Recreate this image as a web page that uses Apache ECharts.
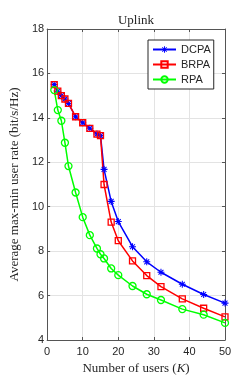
<!DOCTYPE html>
<html>
<head>
<meta charset="utf-8">
<script src="https://cdn.jsdelivr.net/npm/echarts@6/dist/echarts.min.js"></script>
<style>html,body{margin:0;padding:0;background:#fff;}#c{width:249px;height:382px;}</style>
</head>
<body>
<div id="c"></div>
<script>
var users = [2, 3, 4, 5, 6, 8, 10, 12, 14, 15, 16, 18, 20, 24, 28, 32, 38, 44, 50];
var dcpa = [15.5, 15.2, 15.0, 14.85, 14.65, 14.05, 13.78, 13.53, 13.27, 13.2, 11.68, 10.24, 9.33, 8.2, 7.52, 7.05, 6.51, 6.05, 5.66];
var brpa = [15.5, 15.2, 15.0, 14.85, 14.65, 14.05, 13.78, 13.53, 13.27, 13.2, 11.0, 9.31, 8.47, 7.56, 6.9, 6.4, 5.85, 5.43, 5.04];
var rpa = [15.25, 14.35, 13.87, 12.88, 11.83, 10.64, 9.53, 8.72, 8.12, 7.86, 7.67, 7.22, 6.92, 6.43, 6.06, 5.8, 5.39, 5.14, 4.77];
var seriesNames = ['DCPA', 'BRPA', 'RPA'];
var xTicks = [0, 10, 20, 30, 40, 50];
var yTicks = [4, 6, 8, 10, 12, 14, 16, 18];

function pairs(xs, ys) { return xs.map(function (x, i) { return [x, ys[i]]; }); }

var asterisk = 'path://M-1.5,-10L1.5,-10L1.5,10L-1.5,10Z' +
  'M-10,-1.5L10,-1.5L10,1.5L-10,1.5Z' +
  'M-5.94,-8.06L8.06,5.94L5.94,8.06L-8.06,-5.94Z' +
  'M-8.06,5.94L5.94,-8.06L8.06,-5.94L-5.94,8.06Z';
var serif = 'Liberation Serif';
var sans = 'Liberation Sans';
var axisCol = '#555';
var clear = 'rgba(0,0,0,0)';

var chart = echarts.init(document.getElementById('c'), null, {renderer: 'canvas'});
chart.setOption({
  animation: false,
  backgroundColor: '#fff',
  title: {
    text: 'Uplink', left: 131, textAlign: 'center', top: 9,
    textStyle: {fontFamily: serif, fontSize: 13, fontWeight: 'normal', color: '#262626'}
  },
  grid: {left: 37, right: 24, top: 29, bottom: 42},
  legend: {
    orient: 'vertical', left: 148, top: 40,
    data: seriesNames,
    itemWidth: 23, itemHeight: 8, itemGap: 2, itemTextGap: 6,
    padding: [3, 3, 3, 4],
    borderColor: '#262626', borderWidth: 1, backgroundColor: '#fff', borderRadius: 0,
    textStyle: {fontFamily: sans, fontSize: 11, color: '#262626', lineHeight: 13}
  },
  xAxis: [{
    type: 'value', min: xTicks[0], max: xTicks[xTicks.length - 1], interval: 10,
    name: 'Number of users ({i|K})', nameLocation: 'middle', nameGap: 22,
    nameTextStyle: {fontFamily: serif, fontSize: 13, color: '#262626',
      rich: {i: {fontFamily: serif, fontStyle: 'italic', fontSize: 13, color: '#262626'}}},
    axisLine: {lineStyle: {color: axisCol, width: 1}},
    axisTick: {inside: true, length: 3, lineStyle: {color: axisCol}},
    axisLabel: {fontFamily: sans, fontSize: 11, color: '#262626', margin: 6},
    splitLine: {show: true, lineStyle: {color: '#e3e3e3', width: 1}}
  }, {
    type: 'value', position: 'top', min: xTicks[0], max: xTicks[xTicks.length - 1], interval: 10,
    axisLine: {show: true, onZero: false, lineStyle: {color: axisCol, width: 1}},
    axisTick: {inside: true, length: 3, lineStyle: {color: axisCol}},
    axisLabel: {show: false}, splitLine: {show: false}
  }],
  yAxis: [{
    type: 'value', min: yTicks[0], max: yTicks[yTicks.length - 1], interval: 2,
    name: 'Average max-min user rate (bit/s/Hz)', nameLocation: 'middle', nameGap: 22,
    nameTextStyle: {fontFamily: serif, fontSize: 13, color: '#262626'},
    axisLine: {show: true, lineStyle: {color: axisCol, width: 1}},
    axisTick: {show: true, inside: true, length: 3, lineStyle: {color: axisCol}},
    axisLabel: {fontFamily: sans, fontSize: 11, color: '#262626', margin: 3},
    splitLine: {show: true, lineStyle: {color: '#e3e3e3', width: 1}}
  }, {
    type: 'value', position: 'right', min: yTicks[0], max: yTicks[yTicks.length - 1], interval: 2,
    axisLine: {show: true, onZero: false, lineStyle: {color: axisCol, width: 1}},
    axisTick: {show: true, inside: true, length: 3, lineStyle: {color: axisCol}},
    axisLabel: {show: false}, splitLine: {show: false}
  }],
  series: [{
    name: seriesNames[0], type: 'line', data: pairs(users, dcpa),
    symbol: asterisk, symbolSize: 7,
    lineStyle: {color: '#0000ff', width: 1.5},
    itemStyle: {color: '#0000ff', borderWidth: 0}
  }, {
    name: seriesNames[1], type: 'line', data: pairs(users, brpa),
    symbol: 'rect', symbolSize: 6,
    lineStyle: {color: '#ff0000', width: 1.5},
    itemStyle: {color: clear, borderColor: '#ff0000', borderWidth: 1.3}
  }, {
    name: seriesNames[2], type: 'line', data: pairs(users, rpa),
    symbol: 'circle', symbolSize: 7,
    lineStyle: {color: '#00ff00', width: 1.5},
    itemStyle: {color: clear, borderColor: '#00ff00', borderWidth: 1.3}
  }]
});
</script>
</body>
</html>
